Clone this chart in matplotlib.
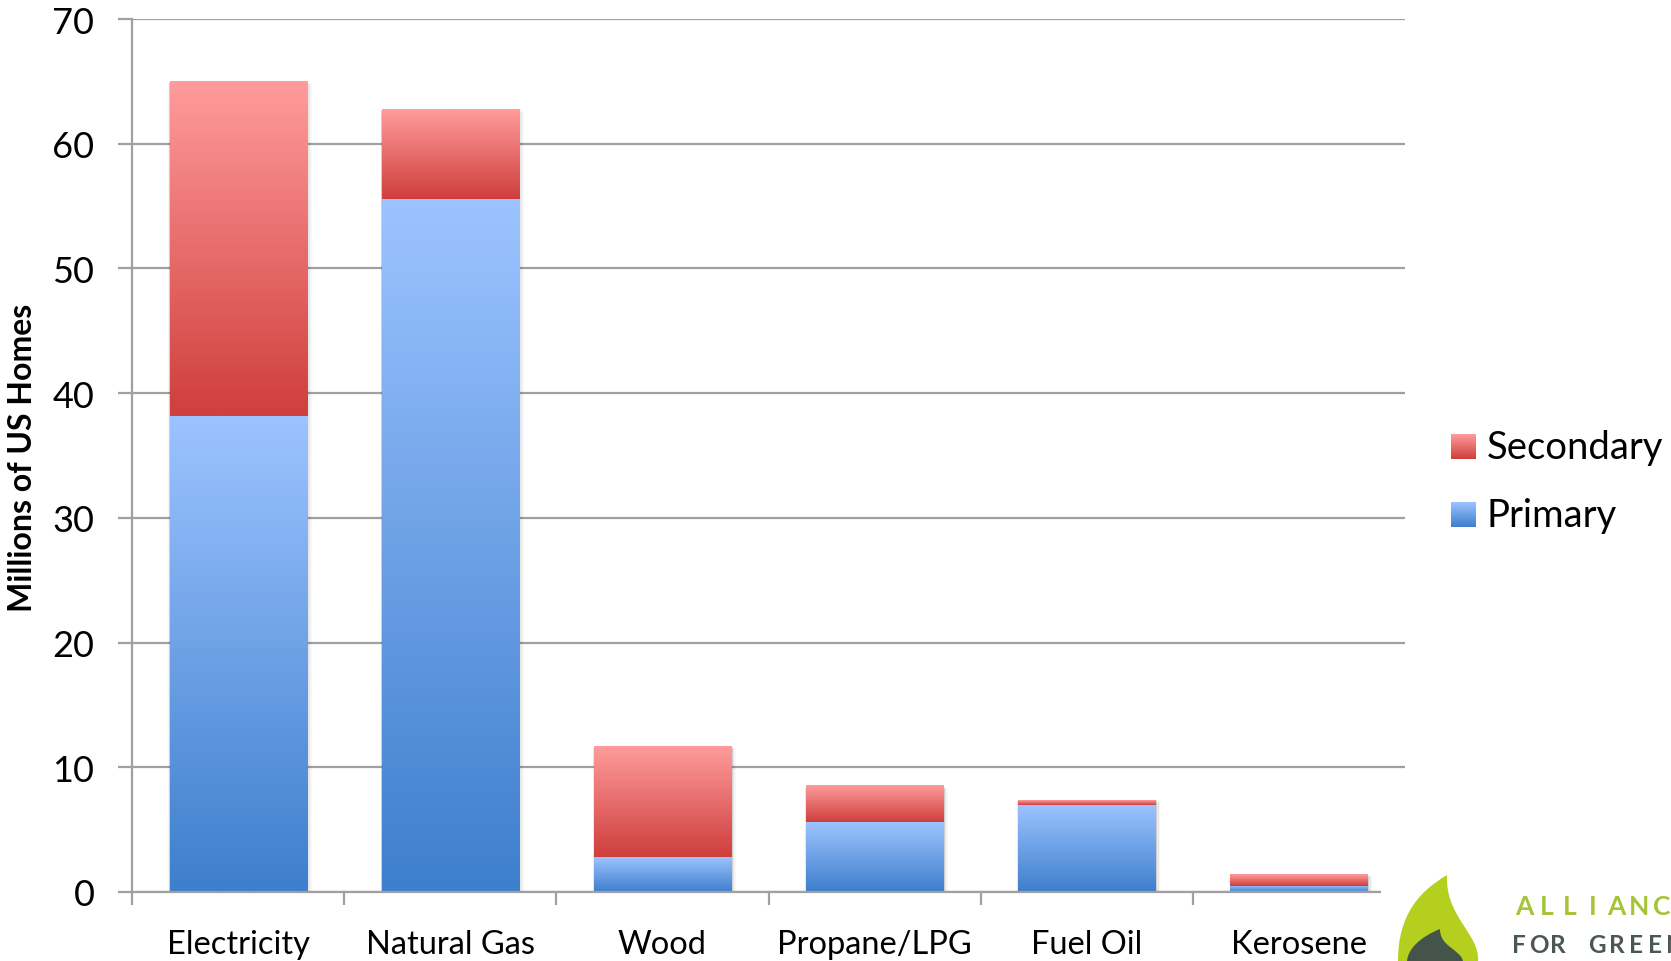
import numpy as np
import matplotlib
matplotlib.use("Agg")
import matplotlib.pyplot as plt
from matplotlib.patches import Rectangle, PathPatch
from matplotlib.path import Path

plt.rcParams['font.family'] = ['Lato', 'DejaVu Sans']

# data (millions of US homes)
categories = ['Electricity', 'Natural Gas', 'Wood', 'Propane/LPG', 'Fuel Oil', 'Kerosene']
primary = [38.2, 55.6, 2.8, 5.6, 7.0, 0.5]
secondary = [26.8, 7.2, 8.9, 2.9, 0.4, 0.95]
y_ticks = [0, 10, 20, 30, 40, 50, 60, 70]
series_names = ['Secondary', 'Primary']

W, H = 1671, 962
BLUE_TOP, BLUE_BOT = '#9cc3ff', '#3e7fcd'
RED_TOP, RED_BOT = '#ff9b9b', '#cf3f3d'
GRID = '#a0a0a0'


def grad(top, bot, n=64):
    c0 = np.array(matplotlib.colors.to_rgb(top))
    c1 = np.array(matplotlib.colors.to_rgb(bot))
    t = np.linspace(0, 1, n)[:, None]
    return (c0 * (1 - t) + c1 * t)[:, None, :]


def grad_box(ax, x0, x1, y0, y1, top, bot, z=3):
    ax.imshow(grad(top, bot), extent=(x0, x1, y0, y1), origin='upper',
              aspect='auto', interpolation='bilinear', zorder=z)


fig = plt.figure(figsize=(W / 100, H / 100), dpi=100)
ax = fig.add_axes([132 / W, 1 - 893 / H, (1405 - 132) / W, (893 - 20) / H])

x = np.arange(len(categories))
bw = 0.646
for i in x:
    x0, x1 = i - bw / 2, i + bw / 2
    p, s = primary[i], secondary[i]
    # soft shadow
    for k, a in enumerate([0.10, 0.06, 0.03]):
        d = 0.006 * (k + 1)
        ax.add_patch(Rectangle((x0 - d * 0.3, -0.08 * (k + 1)), bw + d * 1.6, p + s + 0.02,
                               facecolor='black', alpha=a, linewidth=0, zorder=2))
    grad_box(ax, x0, x1, 0, p, BLUE_TOP, BLUE_BOT)
    grad_box(ax, x0, x1, p, p + s, RED_TOP, RED_BOT)

ax.set_xlim(-0.5, len(categories) - 0.5)
ax.set_ylim(0, 70)
ax.set_yticks(y_ticks)
ax.yaxis.grid(True, color=GRID, linewidth=1.6, zorder=1)
ax.set_axisbelow(True)

ax.set_xticks(np.arange(len(categories) + 1) - 0.5)
ax.set_xticklabels([])
ax.set_xticks(x, minor=True)
ax.set_xticklabels(categories, minor=True, fontsize=23.5)
ax.tick_params(axis='x', which='major', length=9, width=1.6, color=GRID)
ax.tick_params(axis='x', which='minor', length=0, pad=27)
ax.tick_params(axis='y', length=10, width=1.6, color=GRID, labelsize=26, pad=17)

for side in ['top', 'right']:
    ax.spines[side].set_visible(False)
for side in ['left', 'bottom']:
    ax.spines[side].set_color(GRID)
    ax.spines[side].set_linewidth(1.6)
ax.spines['bottom'].set_zorder(4)

fig.text(23 / W, 1 - 458 / H, 'Millions of US Homes', rotation=90, ha='center', va='center',
         fontsize=23, fontweight='bold')

# legend
leg = [(series_names[0], RED_TOP, RED_BOT, 435), (series_names[1], BLUE_TOP, BLUE_BOT, 503)]
for name, top, bot, ytop in leg:
    lax = fig.add_axes([1451 / W, 1 - (ytop + 25) / H, 25 / W, 25 / H])
    lax.imshow(grad(top, bot), aspect='auto', interpolation='bilinear', extent=(0, 1, 0, 1))
    lax.axis('off')
    fig.text(1487 / W, 1 - (ytop + 13) / H, name, ha='left', va='center', fontsize=27.5)

# logo (clipped by the page edge, like the original)
lg = fig.add_axes([1381 / W, 0, (W - 1381) / W, 92 / H])
lg.set_xlim(1381, W)
lg.set_ylim(962, 870)
lg.axis('off')
lg.add_patch(Rectangle((1381, 870), W - 1381, 92, facecolor='white', edgecolor='none'))
flame = Path([(1447, 876), (1420, 892), (1398, 915), (1398, 962), (1478, 962),
              (1480, 935), (1445, 918), (1447, 876), (1447, 876)],
             [Path.MOVETO, Path.CURVE4, Path.CURVE4, Path.CURVE4, Path.LINETO,
              Path.CURVE4, Path.CURVE4, Path.CURVE4, Path.CLOSEPOLY])
lg.add_patch(PathPatch(flame, facecolor='#b5cf1e', edgecolor='none'))
inner = Path([(1440, 930), (1420, 938), (1408, 950), (1407, 962), (1463, 962),
              (1460, 950), (1440, 948), (1440, 930), (1440, 930)],
             [Path.MOVETO, Path.CURVE4, Path.CURVE4, Path.CURVE4, Path.LINETO,
              Path.CURVE4, Path.CURVE4, Path.CURVE4, Path.CLOSEPOLY])
lg.add_patch(PathPatch(inner, facecolor='#44544a', edgecolor='none'))
for j, ch in enumerate('ALLIANCE'):
    lg.text(1524 + 23 * j, 915, ch, color='#a6c437', fontsize=19, fontweight='bold',
            ha='center', va='baseline')
for j, ch in enumerate('FOR GREEN'):
    lg.text(1519 + 19.5 * j, 953, ch, color='#4a5850', fontsize=17.5, fontweight='bold',
            ha='center', va='baseline')

fig.savefig('out.png', dpi=100)
